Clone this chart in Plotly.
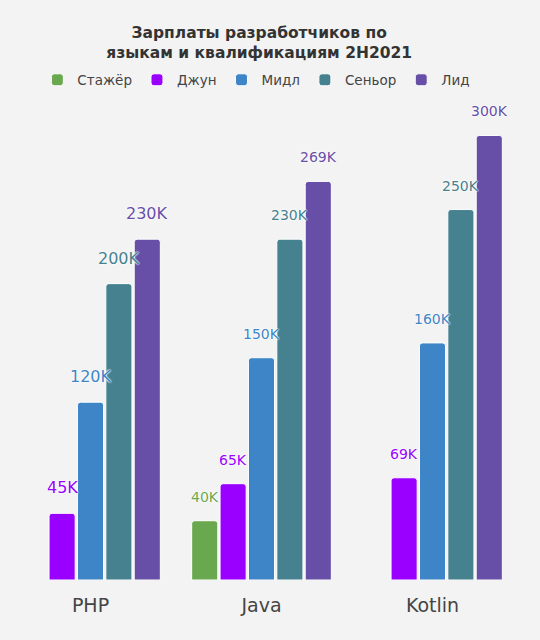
import plotly.graph_objects as go

# данные
languages = ['PHP', 'Java', 'Kotlin']
levels = ['Стажёр', 'Джун', 'Мидл', 'Сеньор', 'Лид']
salaries = {
    'Стажёр': [None, 40, None],
    'Джун': [45, 65, 69],
    'Мидл': [120, 150, 160],
    'Сеньор': [200, 230, 250],
    'Лид': [230, 269, 300],
}
colors = ['#6aa84f', '#9900ff', '#3d85c6', '#45818e', '#674ea7']
label_sizes = [16, 14, 14]

W, H = 540, 640
ML, MR, MT, MB = 5, 22, 91, 60
BARGAP = 0.17

fig = go.Figure()

for level, color in zip(levels, colors):
    fig.add_trace(go.Bar(
        name=level,
        x=languages,
        y=salaries[level],
        marker=dict(color=color, line=dict(color='white', width=1)),
        hoverinfo='skip',
    ))

# подписи над столбцами
step = (W - ML - MR) / len(languages)
slot = step * (1 - BARGAP) / len(levels)
for i, (level, color) in enumerate(zip(levels, colors)):
    for j, lang in enumerate(languages):
        v = salaries[level][j]
        if v is None:
            continue
        fig.add_annotation(
            x=lang, y=v, text=f'{v}K', showarrow=False,
            xshift=(i - (len(levels) - 1) / 2) * slot,
            yshift=14, yanchor='bottom',
            font=dict(family='DejaVu Sans', size=label_sizes[j], color=color,
                      shadow='0 0 2px white, 0 0 2px white, 0 0 1px white'),
        )

fig.update_layout(
    width=W, height=H,
    margin=dict(l=ML, r=MR, t=MT, b=MB, autoexpand=False),
    paper_bgcolor='#f3f3f3',
    plot_bgcolor='#f3f3f3',
    barmode='group',
    bargap=BARGAP,
    bargroupgap=0.08,
    barcornerradius=3,
    font=dict(family='DejaVu Sans', color='#444'),
    title=dict(
        text='Зарплаты разработчиков по<br>языкам и квалификациям 2H2021',
        x=0.48, xanchor='center', y=1 - 38 / H, yanchor='middle',
        yref='container',
        font=dict(size=15.5, color='#333', weight='bold'),
    ),
    legend=dict(
        orientation='h', x=0.49, xanchor='center',
        y=1 - 80 / H, yanchor='middle', yref='container',
        font=dict(size=13.5, color='#444'),
        itemwidth=30,
        itemclick=False,
    ),
    xaxis=dict(showgrid=False, showline=False, ticks='',
               ticklabelstandoff=12,
               tickfont=dict(size=19, color='#444')),
    yaxis=dict(range=[0, 330], showgrid=False, zeroline=False,
               showticklabels=False, ticks=''),
)

fig.write_html('out.html', config={'displayModeBar': False},
               post_script="document.body.style.margin='0';")
